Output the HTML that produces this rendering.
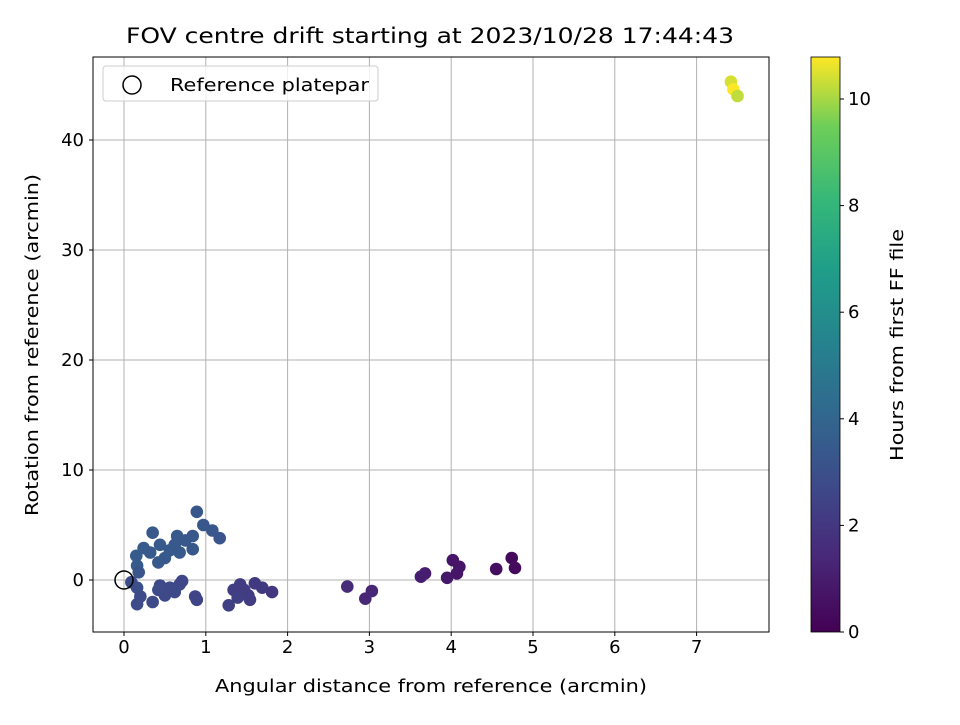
<!DOCTYPE html>
<html><head><meta charset="utf-8"><style>
body{margin:0;background:#fff}
svg text{font-family:"DejaVu Sans","Liberation Sans",sans-serif;fill:#000}
</style></head><body>
<svg id="chart" width="960" height="720">
<defs><linearGradient id="vir" x1="0" y1="1" x2="0" y2="0">
<stop offset="0" stop-color="#440154"/><stop offset="0.13" stop-color="#482878"/><stop offset="0.25" stop-color="#3e4989"/><stop offset="0.38" stop-color="#31688e"/><stop offset="0.5" stop-color="#26828e"/><stop offset="0.63" stop-color="#1f9e89"/><stop offset="0.75" stop-color="#35b779"/><stop offset="0.88" stop-color="#6ece58"/><stop offset="1" stop-color="#fde725"/></linearGradient></defs>
<text x="430" y="43" style="font-size:21px" text-anchor="middle" textLength="608" lengthAdjust="spacingAndGlyphs">FOV centre drift starting at 2023/10/28 17:44:43</text>
<g id="grid"></g><g id="pts"></g>
<rect x="93" y="57" width="676" height="575" fill="none" stroke="#000" stroke-width="1"/>
<g id="axes"></g>
<text x="431" y="692" style="font-size:18px" text-anchor="middle" textLength="432" lengthAdjust="spacingAndGlyphs">Angular distance from reference (arcmin)</text>
<text transform="translate(38,345) rotate(-90)" style="font-size:18px" text-anchor="middle" textLength="342" lengthAdjust="spacingAndGlyphs">Rotation from reference (arcmin)</text>
<g>
<rect x="103" y="66" width="275" height="35" rx="3" fill="#fff" fill-opacity="0.8" stroke="#ccc"/>
<circle cx="132" cy="85" r="9" fill="none" stroke="#000" stroke-width="1.5"/>
<text x="170" y="91" style="font-size:18px" textLength="199" lengthAdjust="spacingAndGlyphs">Reference platepar</text>
</g>
<rect x="811" y="57" width="29" height="575" fill="url(#vir)"/>
<rect x="811" y="57" width="29" height="575" fill="none" stroke="#000" stroke-width="0.8"/>
<g id="cbar"></g>
<text transform="translate(903,345) rotate(-90)" style="font-size:18px" text-anchor="middle" textLength="232" lengthAdjust="spacingAndGlyphs">Hours from first FF file</text>
</svg>
<script>
const xTicks=[0,1,2,3,4,5,6,7];
const yTicks=[0,10,20,30,40];
const cTicks=[0,2,4,6,8,10];
const xs=[0.89,0.97,1.08,1.17,0.84,0.84,0.35,0.65,0.24,0.15,0.44,0.56,0.68,0.5,0.42,0.16,0.18,0.32,0.62,0.75,
0.09,0.16,0.2,0.16,0.35,0.44,0.56,0.68,0.71,0.42,0.5,0.62,0.87,0.89,
1.28,1.34,1.42,1.39,1.52,1.54,1.6,1.69,1.81,1.47,
2.73,3.03,2.95,3.63,3.68,3.95,4.02,4.1,4.07,4.55,4.74,4.78,7.42,7.45,7.5];
const ys=[6.2,5.0,4.5,3.8,4.0,2.8,4.3,4.0,2.9,2.2,3.2,2.7,2.5,2.0,1.6,1.3,0.7,2.5,3.2,3.6,
-0.2,-0.7,-1.5,-2.2,-2.0,-0.5,-0.7,-0.4,-0.1,-0.9,-1.4,-1.1,-1.5,-1.8,
-2.3,-0.9,-0.4,-1.6,-1.4,-1.8,-0.3,-0.7,-1.1,-0.9,
-0.6,-1.0,-1.7,0.3,0.6,0.2,1.8,1.2,0.6,1.0,2.0,1.1,45.3,44.6,44.0];
const hours=[3.3,3.3,3.3,3.2,3.3,3.3,3.4,3.4,3.5,3.5,3.4,3.4,3.4,3.4,3.4,3.5,3.2,3.4,3.4,3.3,
2.9,2.9,2.8,2.8,2.8,2.7,2.7,2.7,2.6,2.8,2.7,2.7,2.5,2.5,
2.3,2.2,2.2,2.3,2.2,2.2,2.1,2.1,2.0,2.2,
1.5,1.3,1.3,1.0,1.0,0.8,0.7,0.7,0.7,0.5,0.3,0.3,10.4,10.8,10.2];
const X=v=>124+v*81.8, Y=v=>580-v*11, C=v=>632-v*53.3;
const stops=[[68,1,84],[72,40,120],[62,73,137],[49,104,142],[38,130,142],[31,158,137],[53,183,121],[110,206,88],[253,231,37]];
function vir(h){let t=Math.max(0,Math.min(1,h/10.78))*8,i=Math.min(7,Math.floor(t)),f=t-i,a=stops[i],b=stops[i+1];
return `rgb(${a.map((c,k)=>Math.round(c+(b[k]-c)*f)).join(',')})`;}
const NS='http://www.w3.org/2000/svg';
function mk(p,tag,at){const e=document.createElementNS(NS,tag);for(const k in at)e.setAttribute(k,at[k]);p.appendChild(e);return e;}
const g=document.getElementById('grid'),ax=document.getElementById('axes'),pts=document.getElementById('pts'),cb=document.getElementById('cbar');
xTicks.forEach(v=>{const x=X(v);
const l=mk(g,'line',{x1:x,x2:x,y1:57,y2:632,stroke:'#b0b0b0','stroke-width':1});


mk(ax,'line',{x1:x,x2:x,y1:632,y2:636,stroke:'#000'});
const t=mk(ax,'text',{x:x,y:653,style:'font-size:18px','text-anchor':'middle'});t.textContent=v;

});
yTicks.forEach(v=>{const y=Y(v);
const l=mk(g,'line',{x1:93,x2:769,y1:y,y2:y,stroke:'#b0b0b0','stroke-width':1});


mk(ax,'line',{x1:89,x2:93,y1:y,y2:y,stroke:'#000'});
const t=mk(ax,'text',{x:84,y:y+6,style:'font-size:18px','text-anchor':'end'});t.textContent=v;

});
cTicks.forEach(v=>{const y=C(v);
mk(cb,'line',{x1:840,x2:844,y1:y,y2:y,stroke:'#000'});
const t=mk(cb,'text',{x:848,y:y+6,style:'font-size:18px'});t.textContent=v;

});
xs.forEach((v,i)=>{const c=mk(pts,'circle',{cx:X(v),cy:Y(ys[i]),r:6.3,fill:vir(hours[i])});

});
const r=mk(pts,'circle',{cx:X(0),cy:Y(0),r:9,fill:'none',stroke:'#000','stroke-width':1.5});


</script>
</body></html>
